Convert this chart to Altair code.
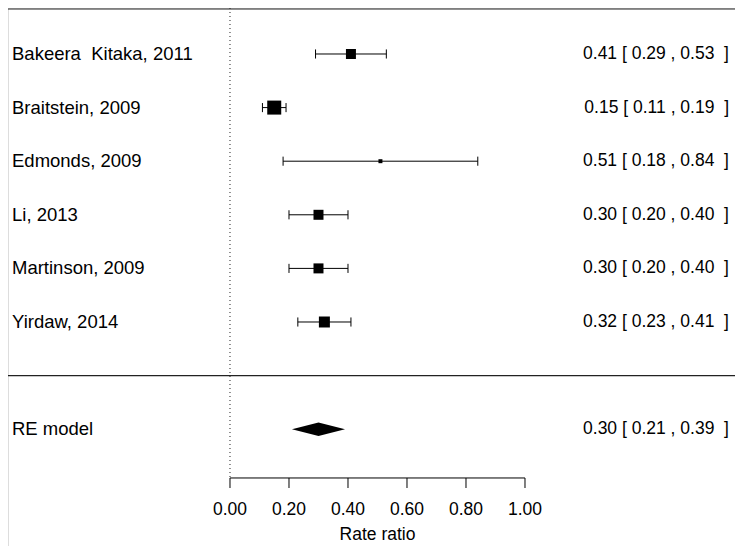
import altair as alt
import pandas as pd

# ---- data ----
studies = ["Bakeera \u00a0Kitaka, 2011", "Braitstein, 2009", "Edmonds, 2009",
           "Li, 2013", "Martinson, 2009", "Yirdaw, 2014"]
estimates = [0.41, 0.15, 0.51, 0.30, 0.30, 0.32]
ci_low = [0.29, 0.11, 0.18, 0.20, 0.20, 0.23]
ci_high = [0.53, 0.19, 0.84, 0.40, 0.40, 0.41]
weights = [15.8, 31.0, 2.5, 15.8, 15.8, 19.1]   # relative weights (%)

re_label = "RE model"
re_est, re_low, re_high = 0.30, 0.21, 0.39

tick_values = [0.0, 0.2, 0.4, 0.6, 0.8, 1.0]
tick_labels = ["0.00", "0.20", "0.40", "0.60", "0.80", "1.00"]
x_title = "Rate ratio"

# ---- layout helpers ----
W, H = 727, 538
FONT = "Liberation Sans"
FS = 17.5
FS_LAB = 18.5
k = len(studies)
rows = list(range(k, 0, -1))
re_row = -1
sep_row = 0
axis_row = -1.91
tick_row = -2.097
cap = 0.085
dia = 0.125

xs = alt.Scale(domain=[-0.7525, 1.7119], nice=False, zero=False)
ys = alt.Scale(domain=[-3.179, 6.858], nice=False, zero=False)

def fmt(e, l, h):
    return f"{e:.2f} [ {l:.2f} , {h:.2f} \u00a0]"

df = pd.DataFrame({
    "study": studies, "est": estimates, "lo": ci_low, "hi": ci_high,
    "w": weights, "row": rows,
    "lab": [fmt(e, l, h) for e, l, h in zip(estimates, ci_low, ci_high)],
})
re_df = pd.DataFrame({"study": [re_label], "row": [re_row],
                      "lab": [fmt(re_est, re_low, re_high)]})
diamond = pd.DataFrame({
    "x": [re_low, re_est, re_high],
    "y": [re_row, re_row + dia, re_row],
    "y2": [re_row, re_row - dia, re_row],
})
ticks_df = pd.DataFrame({"v": tick_values, "t": tick_labels})
base_one = pd.DataFrame({"x": [0.0], "top": [ys.domain[1]], "bot": [axis_row],
                         "sep": [sep_row]})

top_rule = alt.Chart(base_one).mark_rule(color="#222", strokeWidth=1.2).encode(
    x=alt.value(0), x2=alt.value(W), y=alt.value(1))
sep_rule = alt.Chart(base_one).mark_rule(color="#222", strokeWidth=1.2).encode(
    x=alt.value(0), x2=alt.value(W), y=alt.Y("sep:Q", scale=ys, axis=None))
dotted = alt.Chart(base_one).mark_rule(color="#222", strokeWidth=1, strokeDash=[1, 3]).encode(
    x=alt.X("x:Q", scale=xs, axis=None),
    y=alt.Y("top:Q", scale=ys, axis=None), y2="bot:Q")

err = alt.Chart(df).mark_rule(color="black", strokeWidth=1).encode(
    x=alt.X("lo:Q", scale=xs, axis=None), x2="hi:Q",
    y=alt.Y("row:Q", scale=ys, axis=None))
caps_lo = alt.Chart(df).transform_calculate(
    a=f"datum.row + {cap}", b=f"datum.row - {cap}").mark_rule(color="black", strokeWidth=1).encode(
    x=alt.X("lo:Q", scale=xs, axis=None),
    y=alt.Y("a:Q", scale=ys, axis=None), y2="b:Q")
caps_hi = alt.Chart(df).transform_calculate(
    a=f"datum.row + {cap}", b=f"datum.row - {cap}").mark_rule(color="black", strokeWidth=1).encode(
    x=alt.X("hi:Q", scale=xs, axis=None),
    y=alt.Y("a:Q", scale=ys, axis=None), y2="b:Q")
squares = alt.Chart(df).mark_square(color="black", opacity=1, filled=True).encode(
    x=alt.X("est:Q", scale=xs, axis=None),
    y=alt.Y("row:Q", scale=ys, axis=None),
    size=alt.Size("w:Q", scale=alt.Scale(domain=[0, 31.0], range=[0, 196]), legend=None))

diam = alt.Chart(diamond).mark_area(color="black", opacity=1).encode(
    x=alt.X("x:Q", scale=xs, axis=None),
    y=alt.Y("y:Q", scale=ys, axis=None), y2="y2:Q")

lab_left = alt.Chart(df).mark_text(align="left", baseline="middle", font=FONT,
                                   fontSize=FS_LAB, color="black").encode(
    x=alt.value(4), y=alt.Y("row:Q", scale=ys, axis=None), text="study:N")
lab_right = alt.Chart(df).mark_text(align="right", baseline="middle", font=FONT,
                                    fontSize=FS, color="black").encode(
    x=alt.value(721), y=alt.Y("row:Q", scale=ys, axis=None), text="lab:N")
re_left = alt.Chart(re_df).mark_text(align="left", baseline="middle", font=FONT,
                                     fontSize=FS_LAB, color="black").encode(
    x=alt.value(4), y=alt.Y("row:Q", scale=ys, axis=None), text="study:N")
re_right = alt.Chart(re_df).mark_text(align="right", baseline="middle", font=FONT,
                                      fontSize=FS, color="black").encode(
    x=alt.value(721), y=alt.Y("row:Q", scale=ys, axis=None), text="lab:N")

axis_df = pd.DataFrame({"a": [tick_values[0]], "b": [tick_values[-1]], "r": [axis_row]})
axis_line = alt.Chart(axis_df).mark_rule(color="black", strokeWidth=1).encode(
    x=alt.X("a:Q", scale=xs, axis=None), x2="b:Q",
    y=alt.Y("r:Q", scale=ys, axis=None))
axis_ticks = alt.Chart(ticks_df).transform_calculate(
    a=f"{axis_row}", b=f"{tick_row}").mark_rule(color="black", strokeWidth=1).encode(
    x=alt.X("v:Q", scale=xs, axis=None),
    y=alt.Y("a:Q", scale=ys, axis=None), y2="b:Q")
tick_text = alt.Chart(ticks_df).mark_text(align="center", baseline="alphabetic", font=FONT,
                                          fontSize=FS, color="black").encode(
    x=alt.X("v:Q", scale=xs, axis=None), y=alt.value(507), text="t:N")
title_df = pd.DataFrame({"x": [0.5], "t": [x_title]})
title_text = alt.Chart(title_df).mark_text(align="center", baseline="alphabetic", font=FONT,
                                           fontSize=FS, color="black").encode(
    x=alt.X("x:Q", scale=xs, axis=None), y=alt.value(532), text="t:N")

chart = alt.layer(
    top_rule, sep_rule, dotted, err, caps_lo, caps_hi, squares, diam,
    lab_left, lab_right, re_left, re_right,
    axis_line, axis_ticks, tick_text, title_text,
).properties(
    width=W, height=H, padding=0, autosize=alt.AutoSizeParams(type="none"),
).configure_view(stroke=None).configure(background="white")

chart.save("out.html", embed_options={"renderer": "svg", "actions": False})
